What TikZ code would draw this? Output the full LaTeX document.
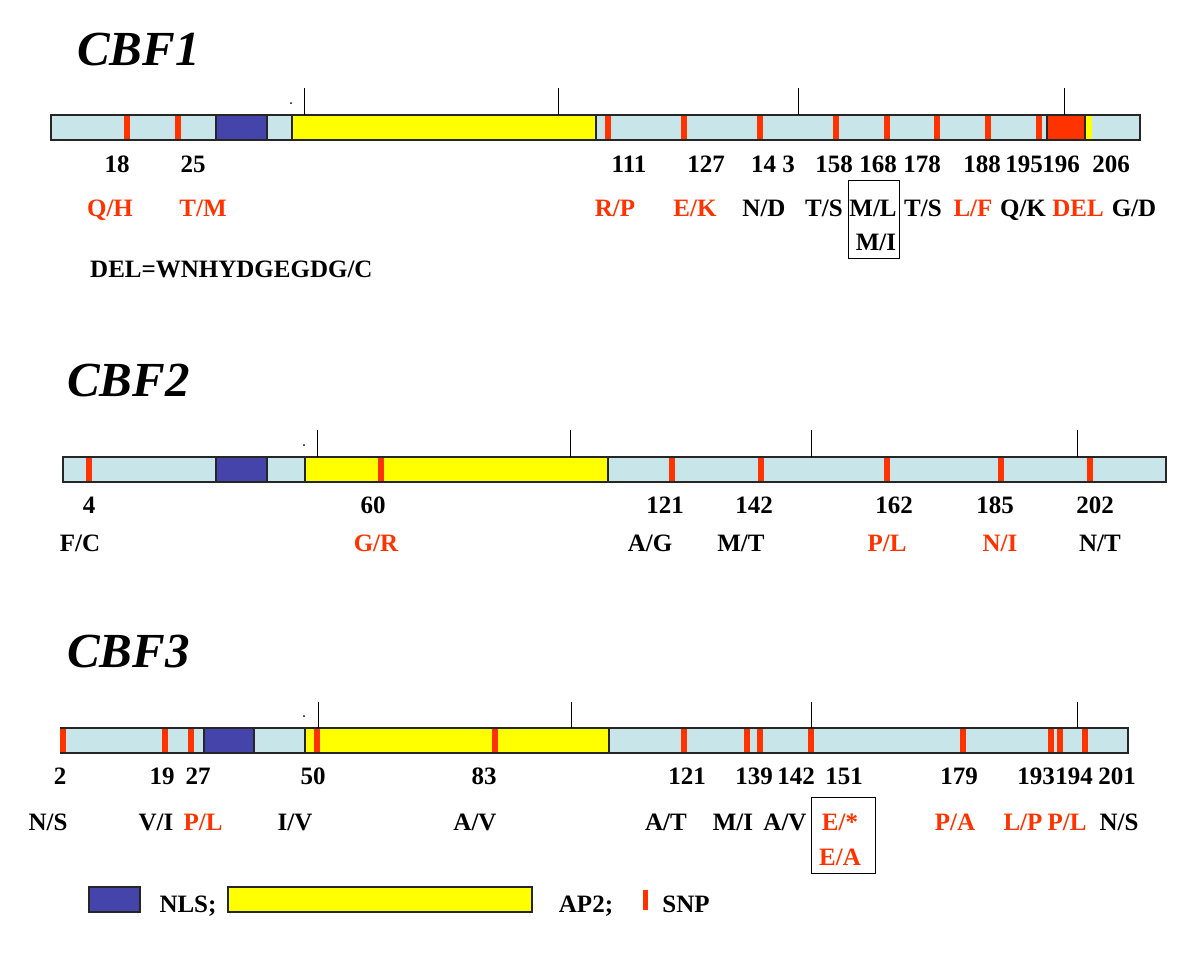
\documentclass[tikz,border=0pt]{standalone}
\usepackage{fontspec}
\setmainfont{Liberation Serif}
\definecolor{barblue}{RGB}{200,230,233}
\definecolor{nlsblue}{RGB}{68,68,170}
\definecolor{snpred}{RGB}{255,51,0}
\definecolor{ap2yellow}{RGB}{255,255,0}
\tikzset{
  bar/.style={draw=black!85, line width=1.5pt, fill=barblue},
  nls/.style={draw=black!85, line width=1.5pt, fill=nlsblue},
  ap2/.style={draw=black!85, line width=1.5pt, fill=ap2yellow},
  delreg/.style={draw=black!85, line width=1.5pt, fill=snpred},
  snp/.style={fill=snpred},
  tickline/.style={line width=1pt},
  num/.style={anchor=base, inner sep=0pt, font=\fontsize{25}{30}\selectfont\bfseries},
  redlbl/.style={num, text=snpred},
  gname/.style={anchor=base west, inner sep=0pt, font=\fontsize{49}{58}\selectfont\bfseries\itshape},
  mutbox/.style={draw, line width=1pt}
}
\begin{document}
\begin{tikzpicture}[x=1pt, y=-1pt]
  \useasboundingbox (0,0) rectangle (1200,954);

  % CBF1
  \node[gname] (cbf1) at (77,65) {CBF1};
  \draw[bar] (51,115) rectangle (1140,140);
  \draw[nls] (216,115) rectangle (267,140);
  \draw[ap2] (292,115) rectangle (596,140);
  \draw[delreg] (1047,115) rectangle (1085,140);
  \fill[ap2yellow] (1085.8,116) rectangle (1092,139);
  \foreach \x in {127,178,608,684,760,836,887,937,988,1039}
    \fill[snp] (\x-3,116) rectangle (\x+3,139);
  \foreach \x in {304,558,798,1064}
    \draw[tickline] (\x,88) -- (\x,115);
  \fill (291,103) circle (1);
  \foreach \x/\t [count=\i] in {117/18,193/25,629/111,706/127,773/14 3,834/158,
      878/168,922/178,982/188,1024/195,1061/196,1111/206}
    \node[num] (na\i) at (\x,172) {\t};
  \foreach \x/\t [count=\i] in {110/{Q/H},203/{T/M},615/{R/P},695/{E/K},973/{L/F},1078/{DEL}}
    \node[redlbl] (ra\i) at (\x,216) {\t};
  \foreach \x/\t [count=\i] in {764/{N/D},824/{T/S},873/{M/L},923/{T/S},1023/{Q/K},1134/{G/D}}
    \node[num] (la\i) at (\x,216) {\t};
  \node[num] (mia) at (876,250) {M/I};
  \draw[mutbox] (848,180) rectangle (899,258);
  \node[num, anchor=base west] (delseq) at (90,277) {DEL=WNHYDGEGDG/C};

  % CBF2
  \node[gname] (cbf2) at (67,396) {CBF2};
  \draw[bar] (63,457) rectangle (1166,482);
  \draw[nls] (216,457) rectangle (267,482);
  \draw[ap2] (305,457) rectangle (608,482);
  \foreach \x in {89,381,672,761,887,1001,1090}
    \fill[snp] (\x-3,458) rectangle (\x+3,481);
  \foreach \x in {317,570,811,1077}
    \draw[tickline] (\x,430) -- (\x,457);
  \fill (304,445) circle (1);
  \foreach \x/\t [count=\i] in {89/4,373/60,665/121,754/142,894/162,995/185,1095/202}
    \node[num] (nb\i) at (\x,513) {\t};
  \foreach \x/\t [count=\i] in {376/{G/R},887/{P/L},1000/{N/I}}
    \node[redlbl] (rb\i) at (\x,551) {\t};
  \foreach \x/\t [count=\i] in {80/{F/C},650/{A/G},741/{M/T},1100/{N/T}}
    \node[num] (lb\i) at (\x,551) {\t};

  % CBF3
  \node[gname] (cbf3) at (67,667) {CBF3};
  \draw[bar] (61,728) rectangle (1128,753);
  \draw[nls] (204,728) rectangle (254,753);
  \draw[ap2] (305,728) rectangle (609,753);
  \foreach \x in {63,165,191,317,495,684,747,760,811,963,1051,1060,1085}
    \fill[snp] (\x-3,729) rectangle (\x+3,752);
  \foreach \x in {318,571,811,1077}
    \draw[tickline] (\x,702) -- (\x,728);
  \fill (304,716) circle (1);
  \foreach \x/\t [count=\i] in {60/2,162/19,198/27,313/50,484/83,687/121,754/139,
      796/142,844/151,959/179,1036/193,1074/194,1117/201}
    \node[num] (nc\i) at (\x,784) {\t};
  \foreach \x/\t [count=\i] in {203/{P/L},840/{E/*},955/{P/A},1023/{L/P},1067/{P/L}}
    \node[redlbl] (rc\i) at (\x,830) {\t};
  \foreach \x/\t [count=\i] in {48/{N/S},156/{V/I},295/{I/V},475/{A/V},666/{A/T},733/{M/I},
      785/{A/V},1119/{N/S}}
    \node[num] (lc\i) at (\x,830) {\t};
  \node[redlbl] (eac) at (840,865) {E/A};
  \draw[mutbox] (811,797) rectangle (875,873);

  % Legend
  \draw[nls] (89,887) rectangle (140,912);
  \node[num] (knls) at (188,912) {NLS;};
  \draw[ap2] (228,887) rectangle (532,912);
  \node[num] (kap2) at (586,912) {AP2;};
  \fill[snp] (642.5,890) rectangle (647.5,910);
  \node[num] (ksnp) at (686,912) {SNP};
\end{tikzpicture}
\end{document}
